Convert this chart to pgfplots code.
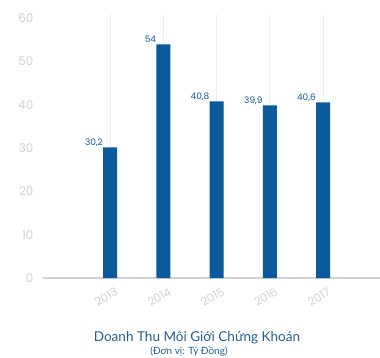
\documentclass[border=0pt]{standalone}
\usepackage{fontspec}
\setmainfont{Lato}
\newfontfamily\numfont{Poppins}
\usepackage{pgfplots}
\pgfplotsset{compat=1.18}

\definecolor{barblue}{HTML}{0B5A9C}
\definecolor{titleblue}{HTML}{1F6096}
\definecolor{tickgrey}{HTML}{D0D0D0}
\definecolor{gridgrey}{HTML}{EEEEEE}
\definecolor{basegrey}{HTML}{D2D2D2}

\begin{document}
\begin{tikzpicture}[x=1bp,y=1bp]
\useasboundingbox (0,0) rectangle (380,358);
\begin{axis}[
  at={(43bp,80bp)}, anchor=south west,
  scale only axis, width=337bp, height=264bp,
  xmin=-1.26, xmax=5.07, ymin=0, ymax=61,
  ybar, bar width=14bp,
  xtick={0,1,2,3,4},
  xticklabels={2013,2014,2015,2016,2017},
  ytick={0,10,20,30,40,50,60},
  axis line style={draw=none},
  major tick length=0pt,
  xmajorgrids,
  grid style={gridgrey, line width=0.8bp},
  extra y ticks={0},
  extra y tick labels={},
  extra y tick style={ymajorgrids, grid style={basegrey, line width=1.3bp}},
  /pgf/number format/assume math mode=true,
  yticklabel style={font=\numfont\fontsize{12}{12}\selectfont, text=tickgrey, xshift=-6bp},
  xticklabel style={font=\numfont\fontsize{11.5}{11.5}\selectfont, text=tickgrey,
    xshift=-4bp, yshift=-19bp, rotate=30, anchor=center},
  nodes near coords={\pgfmathprintnumber[fixed, use comma, precision=1]{\pgfplotspointmeta}},
  every node near coord/.append style={anchor=base east, inner sep=0pt,
    xshift=-7bp, yshift=2bp, text=barblue, font=\numfont\fontsize{9}{9}\selectfont},
]
\addplot[fill=barblue, draw=none] coordinates {
  (0,30.2) (1,54) (2,40.8) (3,39.9) (4,40.6)
};
\end{axis}
\node[anchor=base, text=titleblue, font=\fontsize{13.6}{13.6}\selectfont] at (197,16.3)
  {Doanh Thu Môi Giới Chứng Khoán};
\node[anchor=base, text=titleblue, font=\fontsize{10}{10}\selectfont] at (189,4)
  {(Đơn vị: Tỷ Đồng)};
\end{tikzpicture}
\end{document}
